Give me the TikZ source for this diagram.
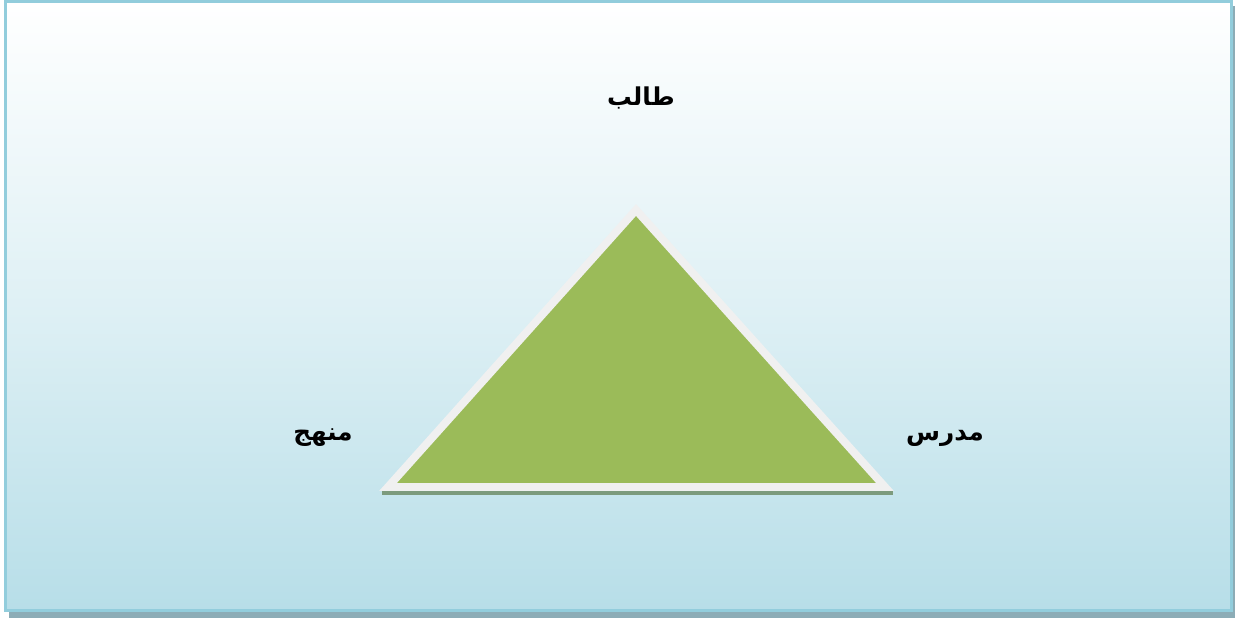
\documentclass[tikz,border=0pt]{standalone}
\usepackage{fontspec}
\usepackage{xcolor}
\usetikzlibrary{positioning}
\TeXXeTstate=1
\newfontfamily\arabicfont[Script=Arabic]{DejaVu Sans}
\definecolor{tfgreen}{RGB}{155,187,89}
\definecolor{tfedge}{RGB}{240,240,240}
\definecolor{tfframe}{RGB}{146,205,220}
\definecolor{tfsky}{RGB}{183,222,232}
\definecolor{tfshade}{RGB}{140,172,182}
\definecolor{tfgshade}{RGB}{125,155,125}
\tikzset{
    corner/.style={
        font=\arabicfont\bfseries\fontsize{14}{17}\selectfont,text=black
    },
    frame/.style={
        draw=tfframe,line width=1.7pt,
        top color=white,bottom color=tfsky,middle color=tfsky!45
    },
    tri/.style={
        draw=tfedge,line width=4.5pt,line join=miter,fill=tfgreen
    }
}
\begin{document}
\begin{tikzpicture}[x=0.02cm,y=-0.02cm]

\useasboundingbox (0,0) rectangle (1235,618);

% frame with shadow
\fill[tfshade] (9,6) rectangle (1235,618);
\draw[frame] (5.5,1.5) rectangle (1231.5,610.5);

% triangle corners
\coordinate (top) at (636,210);
\coordinate (bl) at (388,487);
\coordinate (br) at (885,487);

\fill[tfgshade] ([shift={(-6,3)}]bl) -- ([shift={(8,3)}]br) -- ([shift={(8,8)}]br) -- ([shift={(-6,8)}]bl) -- cycle;
\draw[tri] (top) -- (br) -- (bl) -- cycle;

\node[corner] (pupil) at (641,98) {\beginR طالب\endR};
\node[corner] (course) at (323,438) {\beginR منهج\endR};
\node[corner] (teacher) at (945,438) {\beginR مدرس\endR};

\end{tikzpicture}
\end{document}
